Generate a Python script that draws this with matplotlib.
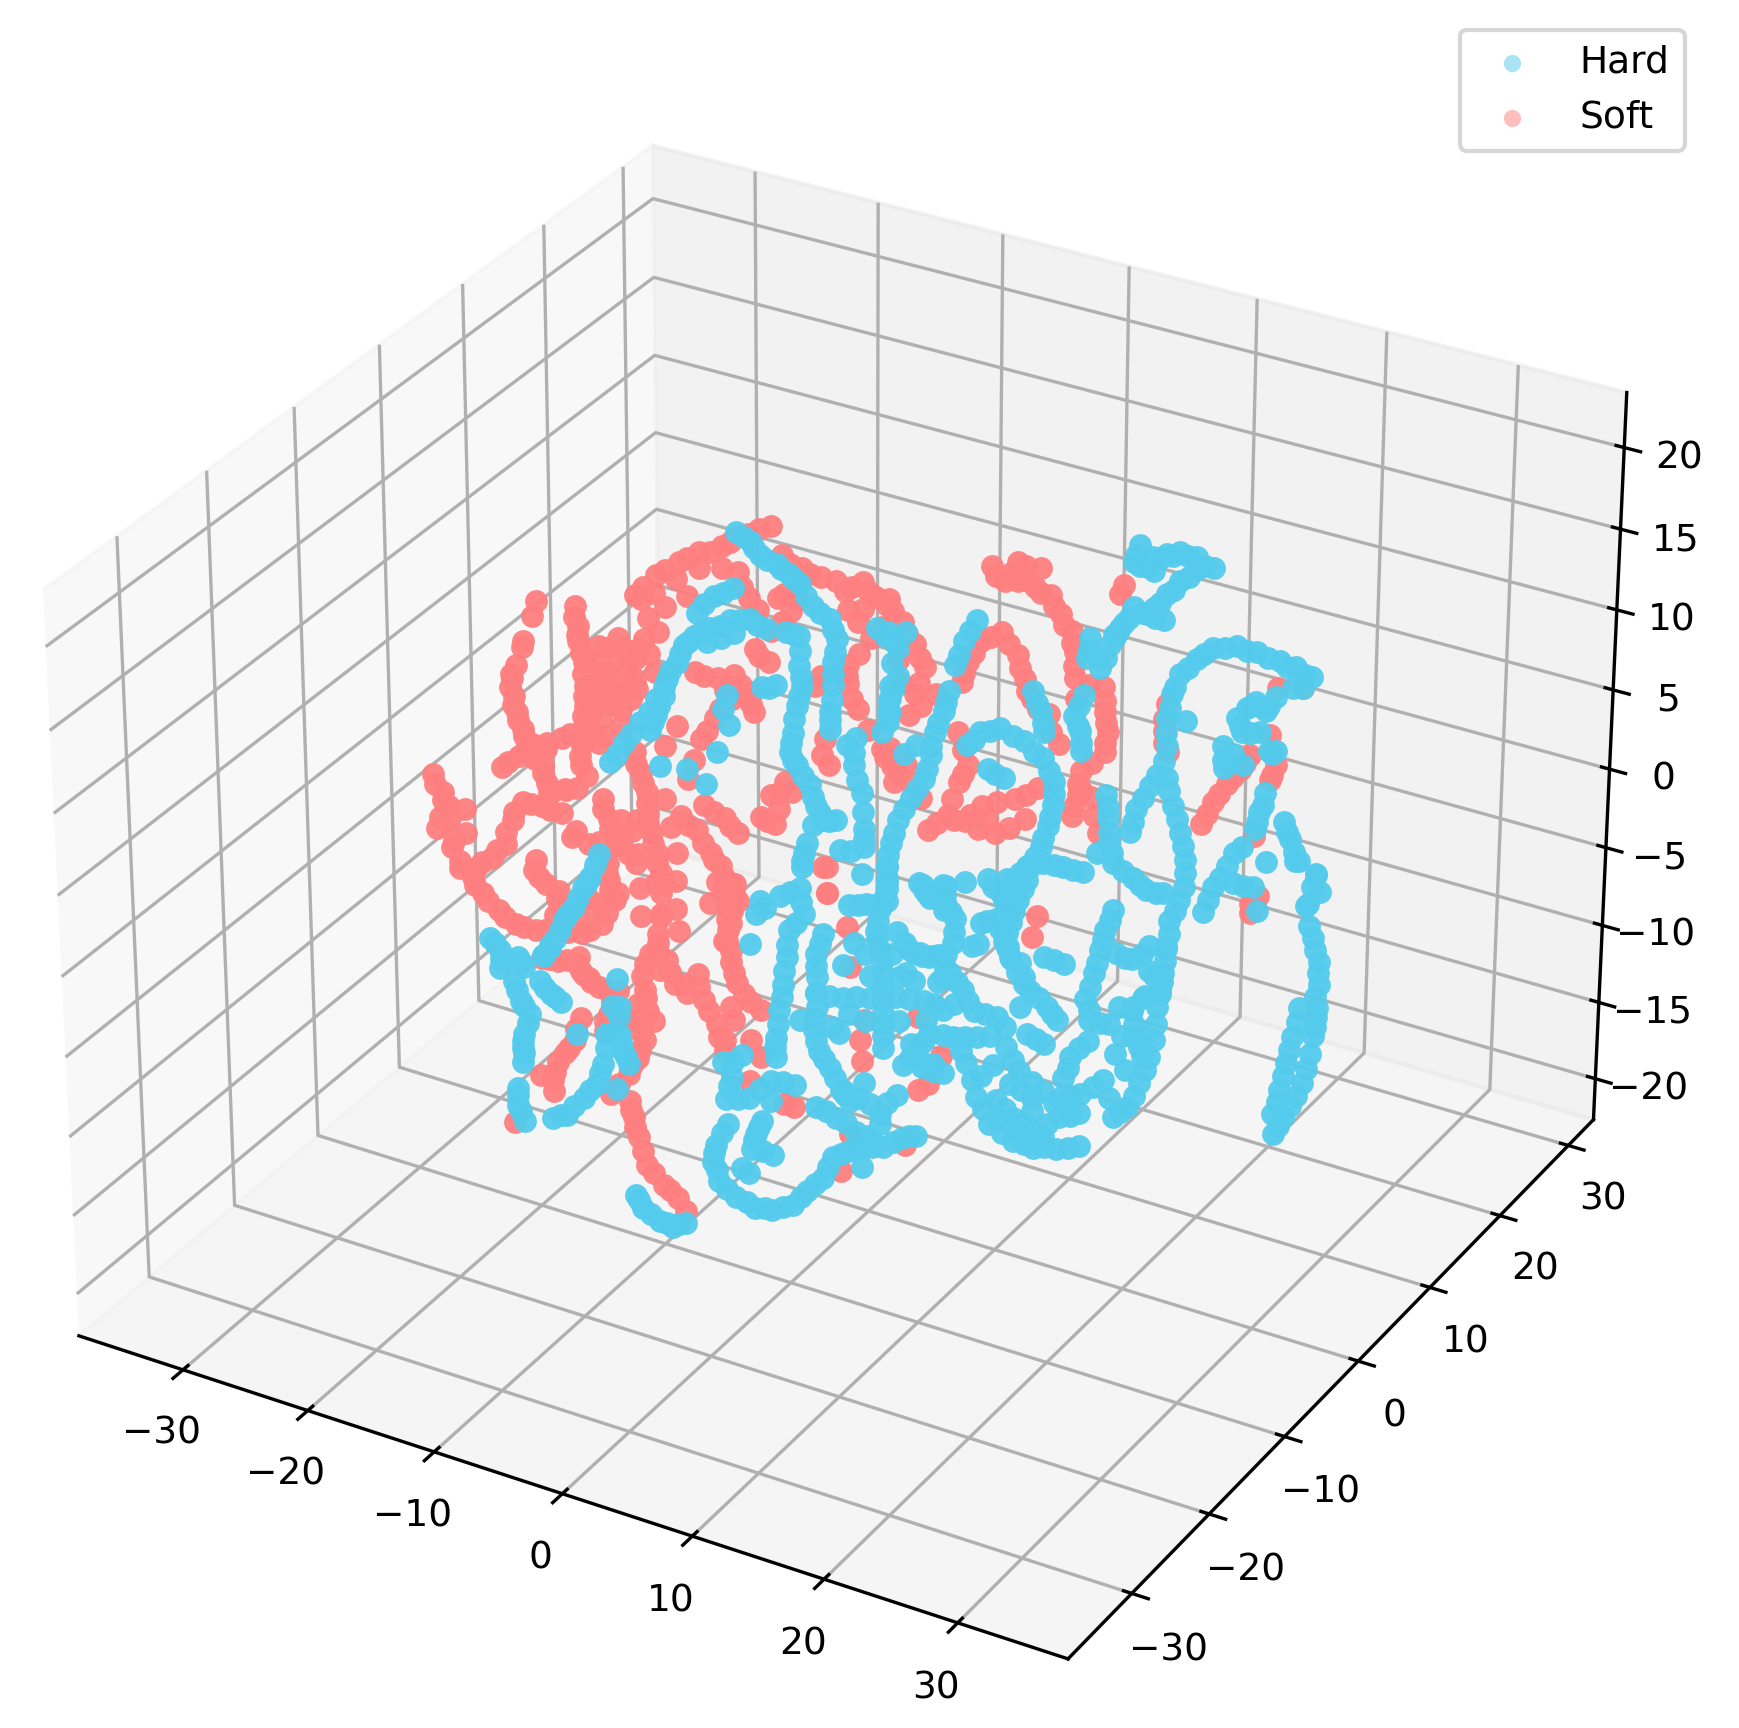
import matplotlib
matplotlib.use('Agg')
import matplotlib.pyplot as plt

plt.rcParams['font.size'] = 9

x_ticks = [-30, -20, -10, 0, 10, 20, 30]
y_ticks = [-30, -20, -10, 0, 10, 20, 30]
z_ticks = [-20, -15, -10, -5, 0, 5, 10, 15, 20]

soft_x = [-33.3,-33.6,-34.4,-34.5,-36.4,-36.7,-36.6,-36.4,-35.9,-35.3,-34.0,-34.3,-34.0,-33.8,-32.4,-27.4,-27.2,-27.2,-26.7,-26.7,-26.7,-26.8,-27.0,-27.1,-35.0,-33.6,-32.2,-30.0,-28.3,-26.4,-27.7,-26.0,-24.1,-22.5,-20.6,-20.6,-19.0,-17.6,-16.6,-20.7,-20.2,-20.5,-22.6,-24.2,-22.9,-22.9,-23.0,-21.3,-21.3,-21.6,-24.0,-24.0,-24.1,-19.4,-19.7,-20.1,-19.6,-19.1,-19.1,-18.8,-18.3,-18.1,-18.1,-18.1,-18.4,-17.8,-18.1,-18.4,-19.5,-19.5,-19.3,-17.0,-16.4,-14.5,-14.0,-13.0,-12.4,-15.4,-19.6,-18.3,-17.2,-16.4,-15.6,-15.0,-15.6,-16.2,-15.3,-15.9,-15.9,-15.6,-15.4,-14.6,-13.2,-15.7,-15.4,-16.2,-20.3,-19.2,-18.1,-16.7,-16.5,-15.1,-14.9,-17.8,-19.7,-19.0,-17.3,-16.3,-14.4,-13.3,-11.9,-13.6,-21.2,-22.2,-44.3,-43.5,-43.0,-44.1,-41.6,-41.6,-42.8,-42.2,-41.1,-40.3,-38.9,-37.5,-35.8,-33.9,-31.9,-30.2,-29.1,-29.6,-29.6,-40.8,-39.4,-38.2,-37.6,-36.7,-35.1,-33.4,-33.1,-32.6,-31.2,-35.7,-35.5,-33.8,-33.8,-30.0,-29.5,-29.0,-27.9,-27.3,-30.2,-28.8,-30.0,-28.6,-26.9,-26.7,-26.1,-25.3,-23.7,-24.5,-24.8,-23.2,-21.8,-21.5,-22.1,-22.9,-24.4,-25.5,-26.0,-26.9,-27.7,-27.8,-28.9,-31.2,-19.5,-19.2,-18.8,-18.2,-16.8,-15.7,-15.0,-9.6,-8.8,-9.7,-6.2,-7.0,-2.3,-3.0,2.1,-4.4,-4.1,-2.3,-2.5,-1.2,-1.5,-1.3,3.1,3.9,4.9,3.1,2.7,3.7,4.7,4.7,6.5,6.0,7.3,8.1,8.9,9.2,9.2,11.5,11.6,11.8,11.6,9.8,9.6,9.1,10.6,11.2,2.5,1.5,1.0,4.1,5.4,5.9,6.5,7.8,8.6,-7.8,-6.7,-5.7,-4.9,-5.7,-4.0,-6.2,-9.9,-11.3,-9.4,-10.3,-14.8,-16.4,-12.0,2.5,4.9,7.2,3.8,6.4,8.2,1.2,2.0,2.7,1.9,-3.4,-2.2,-3.1,-0.4,-9.2,-9.2,-8.4,-6.5,-5.7,-16.7,-15.6,-17.3,-11.9,-11.1,-10.8,-14.3,-10.9,-10.9,-14.8,-15.4,-17.2,-18.0,-13.8,23.0,23.9,24.9,25.9,26.6,20.3,20.1,20.4,28.0,28.5,28.1,27.0,26.9,27.4,28.5,30.4,10.2,10.6,16.9,16.6]
soft_y = [12,12,12,12,
    14,14,14,14,14,14,14,14,14,14,14,
    8,8,8,8,8,8,8,8,8,
    10,10,10,10,10,10,
    16,16,16,16,16,16,16,16,16,
    6,6,6,6,6,6,6,6,6,6,6,6,6,6,6,6,
    4,4,4,4,4,4,4,4,4,4,4,4,4,4,4,4,
    3,3,3,3,3,3,3,
    9,9,9,9,9,9,9,9,9,9,9,9,9,9,9,9,9,9,
    11,11,11,11,11,11,11,11,11,11,11,11,11,11,11,11,11,11,
    15,15,15,15,15,15,15,15,15,15,15,15,15,15,15,15,15,15,15,15,15,15,15,15,15,15,15,15,15,15,15,15,15,15,15,15,15,15,15,15,
    7,7,7,7,7,7,7,7,7,7,7,7,7,7,7,
    5,5,5,5,5,5,5,
    2,2,2,2,2,2,2,2,2,2,2,2,
    3,3,3,3,3,3,3,3,3,3,3,3,3,3,
    13,13,13,13,13,13,13,13,13,13,13,13,13,13,13,13,13,13,13,13,
    12,12,12,12,12,12,12,12,12,
    17,17,17,17,17,17,17,17,17,17,17,17,17,17,
    10,10,10,10,10,10,10,10,10,10,10,10,10,10,
    14,14,14,14,14,14,14,14,14,14,14,14,14,14,14,14,14,14,14,
    6,6,6,6,6,6,6,6,6,6,6,6,6,6,6,6,6,6,6,6]
soft_z = [3.9,2.9,1.1,0.7,-1.7,-2.6,-3.7,-4.7,-5.7,-6.5,-6.6,-7.7,-8.8,-9.4,-8.9,6.5,5.3,4.3,3.1,1.6,0.3,-1.0,-2.3,-3.6,-6.3,-5.3,-4.3,-3.3,-2.4,-2.4,3.9,5.6,6.8,7.8,7.2,8.6,9.6,10.3,10.7,9.2,8.1,6.7,6.3,5.5,4.9,3.2,2.0,5.3,4.0,2.7,3.9,2.2,0.9,7.4,4.8,0.5,-0.7,-1.8,-3.2,-4.4,-5.6,-6.8,-8.1,-9.4,-10.8,-7.4,-9.6,-11.4,-13.0,-14.7,-16.0,-11.7,-13.1,-12.0,-13.6,-14.9,-16.5,-13.5,-5.6,-6.2,-7.4,-8.1,-9.0,-10.0,-11.6,-12.9,-9.0,-10.6,-12.1,-13.4,-14.8,-16.0,-16.7,-17.1,-17.9,-19.4,-4.2,-1.4,0.2,1.7,3.3,2.5,1.3,2.8,2.8,-5.6,-6.0,-6.8,-5.3,-5.5,-3.1,-3.7,-1.0,-2.5,-11.0,-12.0,-12.8,-14.5,-12.7,-14.3,-15.5,-16.3,-17.1,-18.0,-18.8,-19.4,-19.4,-19.0,-18.7,-17.7,-15.8,-14.6,-13.5,-16.4,-15.4,-14.2,-12.5,-11.1,-11.0,-11.1,-9.4,-12.5,-12.6,-14.7,-15.8,-16.3,-17.2,-9.4,-10.6,-11.6,-12.5,-13.0,-16.3,-15.3,-16.4,-16.3,-15.6,-16.5,-16.8,-17.2,-17.1,-18.8,-20.0,-18.7,-18.8,-19.8,-21.1,-22.4,-24.1,-18.4,-20.0,-21.1,-22.5,-23.8,-23.0,-26.7,-21.1,-22.1,-23.3,-25.0,-26.0,-26.6,-27.3,-14.7,-15.6,-17.4,-18.2,-18.2,-19.5,-22.1,-19.1,-2.8,-4.4,-8.7,-6.2,-11.8,-13.2,-14.5,-10.6,-14.7,-12.7,-15.3,13.5,12.8,14.2,13.0,14.2,12.9,12.7,11.7,10.8,9.6,8.0,7.9,6.4,5.2,3.9,2.3,0.7,-0.7,0.8,-1.3,9.2,7.7,6.3,10.1,9.0,7.6,6.5,5.8,4.1,7.6,6.4,5.2,3.9,2.0,2.4,0.6,8.2,7.3,7.7,5.6,8.0,8.5,7.8,-1.3,-1.5,-0.1,0.0,1.0,2.1,-1.2,1.1,2.3,4.2,2.0,1.2,-0.1,-2.5,4.3,3.1,1.7,-0.4,-1.3,3.7,3.1,0.4,2.4,-0.8,-2.4,-4.3,-9.0,-10.7,7.3,5.1,6.8,8.3,6.7,4.9,6.5,7.8,9.0,10.0,11.7,10.0,8.8,11.5,9.8,8.8,5.1,0.3,1.5,14.5,14.9,-5.1,-3.7,18.2,17.6]

hard_x = [-6.7,-5.6,-4.9,-3.6,-2.7,-1.8,-0.8,0.5,1.0,0.7,0.7,0.5,0.5,-5.7,-7.2,-8.5,-3.1,-4.4,-6.0,-7.5,-8.8,-9.6,-10.1,-10.9,-11.2,-11.8,-12.3,-5.7,-7.8,-14.2,-13.1,-11.8,-10.5,-0.4,0.6,0.6,0.8,0.4,0.1,-0.1,0.4,1.4,1.9,2.4,3.4,1.6,0.9,0.8,-4.3,-5.4,-8.2,-8.0,-9.0,-9.9,-11.4,-13.5,1.2,1.9,1.7,2.3,2.5,2.5,0.6,2.3,3.5,4.8,4.5,4.5,-11.2,-12.0,-12.5,-13.3,-14.1,-14.4,-15.2,-15.8,-21.4,-20.6,-20.6,-19.2,-18.7,-19.5,-19.0,-18.3,-18.8,-18.9,-18.9,-17.4,-16.6,-15.8,-19.4,-19.4,-18.9,-17.9,-16.8,-15.4,-14.3,-13.8,-13.5,-12.4,-12.2,-11.7,-15.9,-12.6,-13.0,-12.4,-12.5,-12.7,-18.4,-17.9,-7.4,-6.8,-5.5,-4.5,-3.4,-0.4,1.1,0.3,-0.2,1.6,3.3,3.3,5.2,1.2,0.3,-0.0,0.5,1.8,3.3,4.6,6.2,7.3,8.6,9.3,10.5,11.6,13.2,14.6,15.7,2.3,2.8,3.4,3.9,3.1,4.7,4.9,6.5,8.0,8.5,9.3,11.2,9.9,7.1,-2.2,-1.9,-2.7,-0.3,1.2,1.5,0.4,0.2,-0.1,-0.4,-0.7,-0.7,3.0,2.5,2.5,2.5,2.3,2.7,3.5,4.4,5.1,1.2,3.3,5.4,7.4,9.6,11.1,6.7,6.7,6.2,5.9,6.2,6.4,6.4,6.4,6.4,5.1,3.8,7.5,8.8,10.1,8.2,9.5,9.8,11.2,11.1,1.8,7.4,7.9,9.1,-1.3,3.7,4.2,5.0,8.4,8.0,7.3,7.0,6.5,5.5,4.5,4.0,3.7,3.7,10.5,9.5,8.8,4.5,3.9,3.7,4.5,3.7,5.1,9.2,10.2,11.7,13.5,15.0,15.8,15.8,15.4,14.9,14.1,13.6,12.9,12.4,12.7,13.7,10.8,12.0,14.2,14.8,15.0,19.5,19.6,19.0,19.7,20.1,19.9,21.6,20.9,22.3,21.5,21.7,21.8,22.1,20.9,23.6,24.6,25.9,27.3,27.7,28.7,29.7,30.1,30.7,31.2,31.4,31.0,30.3,30.1,29.9,29.7,30.1,29.7,29.5,29.0,28.3,27.4,26.4,28.5,27.8,27.7,28.4,27.9,27.5,27.1,26.5,26.8,28.3,28.7,29.9,31.1,30.9,29.0,26.7,25.4,24.9,27.9,26.2,24.7,17.8,18.8,19.6,20.6,22.4,23.9,25.6,27.3,21.1,22.4,23.9,25.8,27.3,22.1,23.8,21.8,22.8,24.6,23.8,16.3,17.1,18.4,19.2,16.4,14.8,13.8,15.8,16.8,15.3,14.5,15.1,15.6,13.3,19.5,21.0,18.0,9.8,10.6,11.6,11.9,12.5,12.4,13.3,14.3,11.9,10.6,9.1,12.2,13.2,14.0,15.8,12.7,10.6,9.6,10.1,11.7,8.6,14.3,19.3,20.8,18.1,19.4,41.0,41.5,41.8,41.6,41.7,41.5,41.1,40.4,39.5,38.8,40.5,40.0,39.6,39.2,38.7,40.9,41.4,39.9,20.3,19.9,21.3,22.3,23.3,24.5,25.8,24.5,23.3,22.4,21.4,19.9,20.9,22.2,19.2,18.5,20.9,23.7,23.7,24.0,24.6,25.8,27.0,28.7,30.2,31.9,33.1,34.3,32.9,25.1,31.9,31.2,32.6,30.5,30.9,32.2,33.3,29.5,29.6,30.3,31.0,32.9,33.4,32.7,32.3,32.0,34.1,34.6,35.3,36.6,35.9,36.9,32.2,34.0,31.1,30.1,29.4,31.6,33.1,33.4]
hard_y = [-4,-4,-4,-4,-4,-4,-4,-4,-4,-4,-4,-4,-4,
    -6,-6,-6,-6,-6,-6,-6,-6,-6,-6,-6,-6,-6,-6,-6,-6,
    -8,-8,-8,-8,-8,-8,-8,-8,-8,-8,-8,-8,-8,-8,-8,-8,-8,-8,-8,
    -3,-3,-3,-3,-3,-3,-3,-3,-3,-3,-3,-3,-3,-3,-3,-3,-3,-3,-3,-3,
    -14,-14,-14,-14,-14,-14,-14,-14,
    -12,-12,-12,-12,-12,-12,-12,-12,-12,-12,-12,-12,-12,-12,-12,-12,-12,
    -10,-10,-10,-10,-10,-10,-10,-10,-10,-10,-10,-10,-10,-10,-10,-10,-10,
    -16,-16,-16,-16,-16,-16,-16,-16,-16,-16,-16,-16,-16,
    -18,-18,-18,-18,-18,-18,-18,-18,-18,-18,-18,-18,-18,-18,-18,-18,-18,-18,-18,-18,-18,-18,
    -13,-13,-13,-13,-13,-13,-13,-13,
    -9,-9,-9,-9,-9,-9,-9,-9,-9,-9,-9,-9,-9,-9,-9,-9,-9,-9,-9,-9,-9,
    -7,-7,-7,-7,-7,-7,-7,-7,-7,-7,-7,-7,-7,-7,-7,-7,-7,-7,-7,-7,-7,-7,-7,-7,-7,
    -5,-5,-5,-5,-5,-5,-5,-5,
    -2,-2,-2,-2,-2,-2,-2,-2,-2,-2,-2,-2,-2,-2,-2,-2,-2,-2,-2,
    -1,-1,-1,-1,-1,-1,-1,-1,-1,-1,-1,-1,-1,-1,-1,-1,-1,-1,-1,-1,
    -4,-4,-4,-4,-4,-4,-4,-4,-4,-4,-4,-4,-4,-4,-4,-4,-4,
    -11,-11,-11,-11,-11,-11,-11,-11,-11,-11,-11,-11,-11,-11,-11,-11,-11,-11,-11,-11,-11,-11,-11,
    -15,-15,-15,-15,-15,-15,-15,-15,-15,-15,-15,-15,-15,-15,-15,-15,-15,-15,
    -17,-17,-17,-17,-17,-17,-17,-17,-17,-17,-17,-17,-17,-17,-17,-17,-17,-17,-17,
    -6,-6,-6,-6,-6,-6,-6,-6,-6,-6,-6,-6,-6,-6,-6,-6,-6,
    -8,-8,-8,-8,-8,-8,-8,-8,-8,-8,-8,-8,-8,-8,-8,-8,-8,-8,-8,-8,-8,-8,-8,-8,-8,-8,
    -12,-12,-12,-12,-12,-12,-12,-12,-12,-12,-12,-12,-12,-12,-12,-12,-12,-12,
    2,2,2,2,2,2,2,2,2,2,2,2,2,2,2,2,2,
    0,0,0,0,0,0,0,0,0,0,0,0,0,
    -3,-3,-3,-3,-3,-3,-3,-3,-3,-3,-3,-3,-3,-3,-3,-3,-3,-3,-3,-3,-3,-3,
    -5,-5,-5,-5,-5,-5,-5,-5]
hard_z = [20.3,19.9,19.3,19.0,18.6,18.2,17.1,16.6,15.5,14.0,12.6,10.9,9.9,17.9,17.1,15.8,16.0,16.3,15.9,15.1,14.3,13.6,12.4,11.2,10.1,8.8,7.8,15.2,14.2,6.2,7.6,9.2,10.9,17.2,17.2,15.4,14.2,12.9,11.2,10.0,9.3,8.3,7.1,6.4,6.6,5.9,4.0,3.1,11.1,10.7,9.6,7.8,5.9,3.7,4.3,4.0,8.6,9.2,7.5,5.9,3.7,2.6,2.0,0.9,16.3,15.7,11.4,13.0,3.7,2.1,1.3,-0.1,-1.1,-1.8,-3.1,-3.7,-4.8,-5.4,-6.5,-5.5,-6.0,-7.1,-8.2,-8.9,-10.3,-11.2,-12.1,-6.6,-7.2,-7.5,-13.9,-15.0,-15.9,-16.4,-15.9,-14.5,-13.3,-11.9,-9.9,-9.7,-10.7,-11.4,-10.5,-6.2,-8.0,-7.9,-8.6,-13.2,-6.1,-5.3,-16.0,-16.7,-17.2,-17.3,-16.8,-5.8,-5.0,-6.6,-8.1,-7.6,-6.1,-7.4,-5.9,-8.4,-10.0,-11.1,-12.2,-12.9,-13.2,-13.0,-12.3,-11.1,-10.0,-8.5,-7.8,-7.3,-6.9,-6.0,-5.6,-10.9,-11.1,-8.5,-7.6,-9.5,-9.5,-8.7,-9.0,-9.5,-11.6,-9.8,-6.4,-7.9,-7.2,-0.1,0.8,-2.1,1.5,2.3,0.8,-0.5,-2.2,-4.0,-5.7,-7.5,-8.7,-0.1,-1.5,-2.9,-4.8,-6.3,-7.5,-8.4,-9.6,-10.1,-5.1,-4.9,-4.4,-3.9,-3.6,-3.8,4.1,2.7,1.3,-0.1,-1.3,-2.7,-4.3,-5.8,-7.3,1.4,1.0,0.2,-0.8,-0.7,-2.2,3.6,3.1,3.9,2.4,-8.4,-7.7,-8.4,-8.6,-8.3,-11.1,-12.3,-13.4,13.1,11.8,10.4,8.9,7.3,5.9,4.3,2.8,1.2,-0.9,17.9,16.4,14.8,13.2,11.7,10.2,14.9,15.7,16.0,9.6,10.6,11.2,10.8,10.1,8.8,7.4,6.0,4.6,3.2,1.7,0.2,-1.3,-2.9,-4.2,8.5,8.2,14.0,12.9,11.7,14.0,12.8,14.8,16.2,19.7,18.5,19.6,18.1,20.8,10.6,9.2,7.8,6.6,6.9,6.0,5.5,5.6,12.6,14.1,15.7,17.4,15.7,14.2,12.7,11.1,9.4,8.0,6.4,4.7,3.4,6.2,3.6,1.5,-0.6,-2.4,-4.1,-5.0,-0.7,0.3,1.9,9.9,8.6,7.3,5.8,4.1,2.9,3.0,7.4,7.3,8.4,5.3,4.2,1.6,0.3,-1.1,-0.5,-1.8,-2.4,0.6,-0.8,-2.7,-4.1,-4.7,-4.8,-4.4,-3.8,-2.5,-3.3,-3.7,-2.4,-1.8,-1.3,-1.7,0.9,-0.3,-1.1,-2.5,-0.1,-1.6,-2.3,-2.9,-2.8,3.9,4.5,5.0,6.0,3.2,2.2,1.0,0.1,1.7,6.6,6.6,6.5,4.2,3.5,4.5,3.2,2.6,1.1,5.1,1.5,0.3,-0.2,-0.1,-0.8,-1.6,-2.7,-2.7,-4.7,-5.0,-6.3,-7.2,-7.2,-7.4,-4.3,1.9,1.8,-3.2,-3.5,10.6,9.3,8.0,6.5,5.3,4.1,2.0,0.2,-1.3,-2.5,5.6,3.7,2.0,0.3,-1.3,11.9,13.8,14.2,22.9,21.8,22.4,22.8,23.1,23.1,22.7,22.3,21.4,20.4,19.4,19.1,18.9,18.8,18.0,17.1,21.7,12.4,14.1,15.6,16.9,18.1,19.0,19.5,19.5,19.3,19.2,18.9,17.9,14.2,18.1,17.6,17.7,16.8,16.1,16.4,18.7,14.9,13.6,14.6,14.1,15.4,15.5,12.8,11.6,10.5,11.4,10.5,9.3,8.8,6.7,7.8,10.3,9.8,8.9,7.4,5.7,8.0,8.1,6.7]

# second reading pass, between the points above
soft_x2 = [-21.0,-20.5,-20.2,-20.1,-19.7,-19.4,-19.5,-18.7,-18.3,-17.8,-17.9,-21.0,-21.0,-20.8,-17.9,-17.7,-20.8,-21.4,-22.3,-19.4,-20.1,-20.8,-20.5,-19.3,-18.5,-17.3,-16.1,-15.3,-14.5,-19.8,-21.1,-28.1,-26.3,-24.5,-22.6,-21.0,-19.5,-27.2,-25.4,-23.5,-26.3,-24.5,-31.2,-29.8,-29.5,-31.2,-29.8,-31.2,-30.1,-32.4,-32.4,-32.5,-28.6,-27.7,-28.7,-30.1,-31.9,-31.2,-31.0,-30.7,-30.5,-30.5,-30.6,-30.8,-30.9,-30.3,-31.2,-36.5,-36.6,-36.4,-36.0,-35.5,-34.6,-34.0,-33.2,-36.9,-35.5,-33.6,-31.7,-29.8,-45.2,-44.5,-44.8,-44.1,-43.7,-43.2,-42.0,-40.9,-39.5,-37.9,-36.1,-34.1,-32.3,-30.8,-30.5,-30.8,-41.3,-40.0,-39.2,-38.5,-37.1,-35.5,-33.3,-31.4,-32.4,-33.4,-32.0,-35.2,-31.0,-29.9,-36.9,-35.9,-35.0,-31.0,-30.5,-29.7,-20.1,-18.9,-18.0,-17.2,-16.4,-16.6,-17.3,-17.8,-17.0,-17.0,-16.7,-16.2,-15.1,-18.4,-19.6,-18.5,-17.4,-16.4,-15.7,-14.9,-17.0,-18.7,-18.0,-16.7,-13.7,-12.7,-12.7,-29.8,-28.3,-27.4,-26.9,-26.3,-25.0,-24.6,-25.2,-24.5,-22.9,-22.2,-22.3,-23.0,-24.1,-27.6,-28.2,-29.2,-29.6,-23.1,-22.8,-22.2,-21.3,-20.0,2.0,3.1,4.3,4.3,5.5,6.5,7.3,7.9,8.1,8.3,9.3,10.5,10.6,10.6,9.6,8.5,8.2,8.8,9.8,0.3,-0.5,1.6,3.0,3.9,4.5,5.3,6.4,-8.5,-7.4,-6.4,-6.4,-6.3,-11.8,-9.9,-9.0,-10.9,-9.4,-8.1,-7.9,-14.3,-15.2,-16.8,-12.1,-10.3,-11.2,-12.2,-11.8,-10.5,-9.1,-19.3,-14.3,-14.2,-16.1,-17.4,-19.4,-20.7,-17.3,2.5,4.9,0.6,4.0,6.2,1.9,-0.7,0.4,1.3,1.3,-4.0,-3.8,-2.9,-2.0,3.2,20.2,21.1,22.1,23.0,16.8,16.8,25.0,25.0,23.9,23.6]
soft_y2 = [4,4,4,4,4,4,4,4,4,4,4,4,4,4,4,4,4,4,4,4,4,4,4,4,4,4,4,4,4,4,4,
    16,16,16,16,16,16,16,16,16,16,16,16,16,16,16,16,16,16,16,16,16,16,16,16,16,16,
    12,12,12,12,12,12,12,12,12,12,12,12,12,12,12,12,12,12,12,12,12,12,12,
    15,15,15,15,15,15,15,15,15,15,15,15,15,15,15,15,15,15,15,15,15,15,15,15,15,15,15,15,15,15,15,15,15,15,15,15,
    9,9,9,9,9,9,9,9,9,9,9,9,9,9,9,9,9,9,9,9,9,9,9,9,9,9,9,
    6,6,6,6,6,6,6,6,6,6,6,6,6,6,6,6,6,6,6,6,6,6,6,
    13,13,13,13,13,13,13,13,13,13,13,13,13,13,13,13,13,13,13,13,13,13,13,13,13,13,13,
    17,17,17,17,17,17,17,17,17,17,17,17,17,17,17,17,17,17,17,17,17,17,17,17,17,17,17,17,17,17,
    10,10,10,10,10,10,10,10,10,10,10,10,10,10,10,10,10,10,10,10,10,10,10,10,10]
soft_z2 = [-0.6,-1.7,-2.9,-4.2,-5.4,-6.6,-7.9,-2.3,-4.0,-5.6,-7.4,-4.2,-6.4,-8.5,-9.2,-10.6,-10.3,-5.0,-4.5,-12.4,-12.6,-14.2,-15.6,-13.5,-13.4,-13.9,-13.8,-15.2,-16.7,-16.9,-16.1,4.2,5.7,6.8,7.6,8.6,9.4,4.0,5.3,6.4,3.3,4.4,-0.4,-0.1,-1.4,-2.0,-2.8,-3.3,-4.1,-1.4,-3.2,-4.7,0.1,-0.0,-2.5,-5.2,-6.7,3.2,2.1,1.0,-0.3,-1.7,-3.0,-4.4,-5.7,-6.8,-7.8,-1.6,-2.5,-3.6,-4.5,-5.4,-6.7,-7.5,-8.5,-7.4,-6.4,-5.4,-4.4,-3.9,-12.0,-12.9,-14.1,-14.2,-15.4,-17.1,-18.0,-18.8,-19.5,-19.8,-19.6,-19.3,-18.7,-17.2,-15.6,-14.6,-16.3,-15.2,-13.8,-12.3,-11.5,-11.5,-12.4,-12.7,-16.6,-18.0,-17.3,-18.4,-13.4,-12.5,-15.8,-16.5,-17.2,-10.4,-11.6,-12.5,-6.4,-7.3,-8.2,-9.1,-10.0,-11.2,-10.2,-9.6,-11.8,-13.2,-14.5,-15.8,-16.8,-11.1,-2.1,0.0,1.6,3.2,3.5,2.5,2.9,3.4,-5.1,-5.7,-4.7,-3.7,-2.7,-16.1,-15.8,-15.9,-16.5,-16.8,-17.0,-17.7,-19.2,-18.5,-18.5,-19.1,-20.3,-21.5,-23.0,-20.2,-21.6,-22.8,-24.1,-24.5,-25.6,-27.0,-28.3,-29.1,12.6,13.0,13.7,12.8,12.3,11.7,10.7,9.7,8.3,6.3,7.4,6.7,5.3,4.1,2.6,1.0,-0.4,0.7,-0.7,7.4,6.0,8.7,8.6,7.3,6.0,5.0,3.8,6.5,5.3,4.0,2.4,1.0,7.3,7.1,6.8,6.1,5.3,3.5,2.1,7.4,7.4,7.7,5.8,4.4,3.2,1.6,0.2,-1.5,-2.9,1.3,1.1,-3.9,5.6,3.9,4.2,5.4,5.7,-1.9,-1.3,-1.8,0.1,1.1,-1.2,-2.3,-0.5,1.3,2.8,1.1,0.1,-0.2,-1.0,-1.2,3.1,4.5,5.8,6.9,8.2,6.7,8.0,6.6,-1.7,-1.8]

hard_x2 = [-7.2,-6.4,-5.4,-4.3,-3.3,-2.4,-1.3,-0.3,-0.2,-0.3,-0.4,-0.6,-8.8,-10.3,-6.2,-7.5,-9.1,-10.6,-11.6,-12.2,-13.0,-13.5,-13.9,-14.4,-17.3,-16.2,-14.7,-9.0,-1.5,-1.0,-0.9,-1.1,-1.5,-1.7,-1.6,-0.8,-0.0,0.5,1.2,-0.5,-0.9,-3.4,-7.0,3.1,3.4,3.8,3.9,2.9,5.5,5.8,-13.9,-14.6,-15.3,-16.1,-17.2,-22.0,-21.6,-21.0,-20.0,-20.3,-19.8,-19.5,-19.9,-19.9,-20.4,-20.2,-18.1,-17.3,-17.0,-15.9,-14.6,-13.8,-13.3,-12.7,-12.1,-11.7,-6.9,-5.9,-4.7,-3.7,-0.3,-0.9,-0.7,0.1,1.6,3.0,4.4,5.8,6.9,7.9,8.9,10.1,11.3,12.9,14.1,0.6,0.3,1.0,2.7,4.5,2.6,2.2,2.9,7.8,9.3,10.9,12.4,10.2,-2.5,-0.6,0.3,-0.1,-0.8,-1.1,-1.2,-1.6,-1.8,1.7,1.4,1.4,1.3,1.4,2.0,2.9,3.7,0.6,2.7,4.8,6.8,8.7,5.1,4.8,4.4,4.3,4.7,4.8,4.8,4.8,2.8,4.1,6.5,7.8,5.5,6.0,3.8,2.5,1.7,3.4,7.2,6.0,3.4,2.1,0.8,9.0,8.1,10.3,9.4,7.1,6.5,6.0,5.7,4.9,3.9,3.2,2.7,2.6,8.9,8.1,3.1,2.7,3.0,3.3,2.2,3.9,4.8,9.3,10.5,12.2,13.8,15.0,15.4,15.1,14.6,14.0,13.4,12.7,12.2,12.0,12.7,10.9,14.0,14.5,18.5,18.3,18.3,19.0,19.7,20.3,20.9,20.6,20.7,21.0,21.8,23.1,24.3,26.5,27.2,28.2,28.9,29.4,29.9,30.3,30.3,29.7,29.3,29.0,28.8,28.5,28.3,27.7,26.9,25.9,27.2,26.8,28.2,27.4,27.2,26.7,26.3,25.8,25.7,26.6,28.3,29.6,29.0,25.0,24.2,26.1,24.4,30.1,29.7,28.2,27.7,28.5,27.3,17.4,18.2,19.1,20.5,22.2,23.7,25.5,20.7,22.1,23.9,25.6,21.9,21.3,22.7,24.4,23.6,21.5,20.2,18.9,19.8,16.8,17.9,18.9,14.4,15.4,16.4,15.2,14.9,15.5,13.9,20.4,18.9,9.1,10.0,10.7,11.2,11.4,12.8,10.2,8.8,10.7,11.7,12.5,13.8,12.3,10.6,9.1,8.8,9.9,8.1,15.4,14.2,19.0,17.7,40.3,40.8,40.8,40.7,40.6,40.3,39.8,39.0,38.1,39.3,38.8,38.4,38.0,19.0,19.5,20.8,21.7,22.8,24.1,22.9,21.8,20.8,19.6,20.5,18.5,17.7,19.3,20.3,22.6,22.8,23.2,24.1,25.3,26.8,28.4,30.0,31.4,32.7,32.6,30.5,31.2,29.7,30.5,31.8,28.5,28.9,32.1,31.5,31.1,33.3,33.9,35.3,29.5,28.5,27.6,30.2]
hard_y2 = [-4,-4,-4,-4,-4,-4,-4,-4,-4,-4,-4,-4,-4,-4,-4,-4,-4,-4,-4,-4,-4,-4,-4,-4,-4,-4,-4,-4,
    -7,-7,-7,-7,-7,-7,-7,-7,-7,-7,-7,-7,-7,-7,-7,-7,-7,-7,-7,-7,-7,-7,
    -12,-12,-12,-12,-12,-12,-12,-12,-12,-12,-12,-12,-12,-12,-12,-12,-12,-12,-12,-12,-12,-12,-12,-12,-12,-12,
    -18,-18,-18,-18,-18,-18,-18,-18,-18,-18,-18,-18,-18,-18,-18,-18,-18,-18,-18,-18,-18,-18,-18,-18,-18,-18,-18,-18,-18,-18,-18,-18,
    -9,-9,-9,-9,-9,-9,-9,-9,-9,-9,-9,-9,-9,-9,-9,-9,-9,
    -6,-6,-6,-6,-6,-6,-6,-6,-6,-6,-6,-6,-6,-6,-6,-6,-6,-6,-6,-6,-6,-6,-6,-6,-6,-6,-6,-6,-6,-6,-6,-6,
    -2,-2,-2,-2,-2,-2,-2,-2,-2,-2,-2,-2,-2,-2,-2,-2,-2,-2,-2,-2,-2,-2,-2,-2,-2,-2,-2,-2,-2,-2,-2,-2,-2,-2,-2,
    -4,-4,-4,-4,-4,-4,-4,-4,-4,-4,-4,-4,-4,
    -11,-11,-11,-11,-11,-11,-11,-11,-11,-11,-11,-11,-11,-11,-11,-11,-11,-11,-11,-11,-11,
    -15,-15,-15,-15,-15,-15,-15,-15,-15,-15,-15,-15,-15,-15,-15,-15,-15,-15,-15,
    -17,-17,-17,-17,-17,-17,-17,-17,-17,-17,-17,-17,-17,-17,-17,-17,-17,-17,-17,-17,
    -8,-8,-8,-8,-8,-8,-8,-8,-8,-8,-8,-8,-8,-8,-8,-8,-8,-8,-8,-8,-8,-8,-8,-8,-8,-8,-8,-8,-8,-8,-8,-8,-8,-8,
    -12,-12,-12,-12,-12,-12,-12,-12,-12,-12,-12,-12,-12,
    2,2,2,2,2,2,2,2,2,2,2,2,2,2,2,
    0,0,0,0,0,0,0,0,0,0,0,
    -3,-3,-3,-3,-3,-3,-3,-3,-3,-3,-3,-3,-3,-3,-3,-3,-3]
hard_z2 = [19.7,19.2,18.7,18.4,18.0,17.2,16.4,15.6,14.3,12.9,11.3,10.0,16.0,15.0,14.6,14.6,13.9,13.2,12.4,11.5,10.3,9.2,7.9,6.8,4.2,5.7,7.4,13.2,16.3,15.4,13.8,12.6,11.1,9.6,8.6,7.8,6.7,5.8,5.5,3.7,2.5,12.6,10.5,10.1,8.5,6.6,5.0,4.0,17.7,13.9,1.4,0.1,-1.0,-2.2,-4.0,-5.4,-6.3,-6.3,-6.1,-8.0,-8.9,-9.9,-11.1,-11.9,-14.7,-15.7,-7.3,-7.7,-15.2,-14.3,-13.0,-11.7,-10.0,-8.9,-9.3,-10.2,-15.4,-16.0,-16.3,-16.1,-9.5,-10.9,-11.9,-12.9,-13.4,-13.4,-13.0,-12.0,-10.9,-9.6,-8.5,-7.9,-7.5,-6.8,-6.1,-4.8,-6.4,-7.0,-6.0,-5.1,-8.4,-9.3,-9.8,-6.1,-6.5,-6.9,-4.5,-4.7,0.1,1.5,1.1,-0.3,-1.8,-3.5,-5.2,-7.0,-8.5,-1.2,-2.6,-4.3,-5.9,-7.3,-8.3,-9.3,-10.2,-6.0,-5.6,-5.1,-4.7,-4.6,2.4,1.0,-0.4,-1.6,-2.9,-4.5,-6.1,-7.5,0.2,0.5,-1.3,-1.8,-2.2,-3.5,-4.0,-2.2,-3.8,-2.7,-3.5,-6.3,-6.9,-6.8,-7.9,-3.1,-5.7,-4.2,-2.7,12.0,10.6,9.1,7.6,6.2,4.7,3.1,1.6,-0.2,16.7,15.1,12.0,10.5,13.5,15.1,9.1,8.1,8.9,10.2,11.0,11.1,10.5,9.6,8.3,6.8,5.4,4.1,2.5,1.1,-0.4,-2.0,-3.4,8.5,13.5,12.4,12.9,13.9,15.1,18.6,18.3,18.4,19.8,9.5,8.0,6.8,5.9,5.3,5.1,12.9,14.5,16.1,16.1,14.5,13.0,11.5,9.9,8.3,6.8,5.1,3.8,2.2,0.1,-1.9,-3.7,-4.9,-0.6,0.7,4.0,0.1,8.9,7.6,6.1,4.5,3.1,2.5,6.9,7.4,4.1,0.6,-0.8,-1.5,-2.5,6.5,4.8,2.1,0.9,0.1,-1.9,-0.5,-2.1,-3.7,-4.8,-5.1,-4.9,-4.5,-3.3,-3.8,-3.4,-2.5,-1.8,-0.1,-1.1,-2.0,-4.3,-4.3,-4.1,-1.7,-0.8,-0.1,-1.1,-1.9,4.9,5.6,6.2,4.2,2.4,1.4,2.7,7.3,7.3,3.5,3.6,3.5,2.6,1.4,0.9,-0.3,-0.5,-0.7,-1.6,-2.6,-3.1,-4.9,-5.2,-6.0,-7.1,-7.6,-7.2,-3.5,-4.4,1.5,-3.7,9.6,8.3,6.9,5.5,4.3,2.6,0.7,-0.9,-2.3,4.3,2.5,0.8,-0.9,21.9,21.5,22.1,22.4,22.6,22.3,21.4,20.4,19.4,18.5,18.4,18.0,17.0,21.3,21.2,12.8,14.3,15.7,17.0,18.1,18.8,19.0,18.9,18.7,18.5,17.7,17.4,17.5,16.0,15.8,17.7,13.7,13.6,14.9,11.7,10.6,10.5,9.4,7.6,8.3,6.6,5.0,6.5]

x_nudge = -1.04
z_nudge = -0.38

fig = plt.figure(figsize=(1739 / 300, 1728 / 300), dpi=300)
ax = fig.add_axes([-0.0343, -0.0243, 1.019, 1.019], projection='3d')
ax.computed_zorder = False
ax.scatter([v + x_nudge for v in hard_x] + hard_x2, hard_y + hard_y2,
           [v + z_nudge for v in hard_z] + hard_z2,
           c='#54CBEC', s=30, linewidths=0, alpha=0.95, depthshade=False, zorder=3, label='Hard')
ax.scatter([v + x_nudge for v in soft_x] + soft_x2, soft_y + soft_y2,
           [v + z_nudge for v in soft_z] + soft_z2,
           c='#FF7F7F', s=30, linewidths=0, alpha=0.95, depthshade=False, zorder=2, label='Soft')
ax.set_xlim(-38.45, 38.15)
ax.set_ylim(-38.05, 33.75)
ax.set_zlim(-22.7, 23.35)
ax.set_xticks(x_ticks)
ax.set_yticks(y_ticks)
ax.set_zticks(z_ticks)
ax.tick_params(axis='both', pad=0)

leg = ax.legend(loc='upper right', bbox_to_anchor=(1519 / 1568, 1 - 27 / 1558),
                bbox_transform=fig.transFigure, borderaxespad=0, fontsize=9)
for h in leg.legend_handles:
    h.set_alpha(0.5)
    h.set_sizes([17])

fig.savefig('out.png', dpi=300)
